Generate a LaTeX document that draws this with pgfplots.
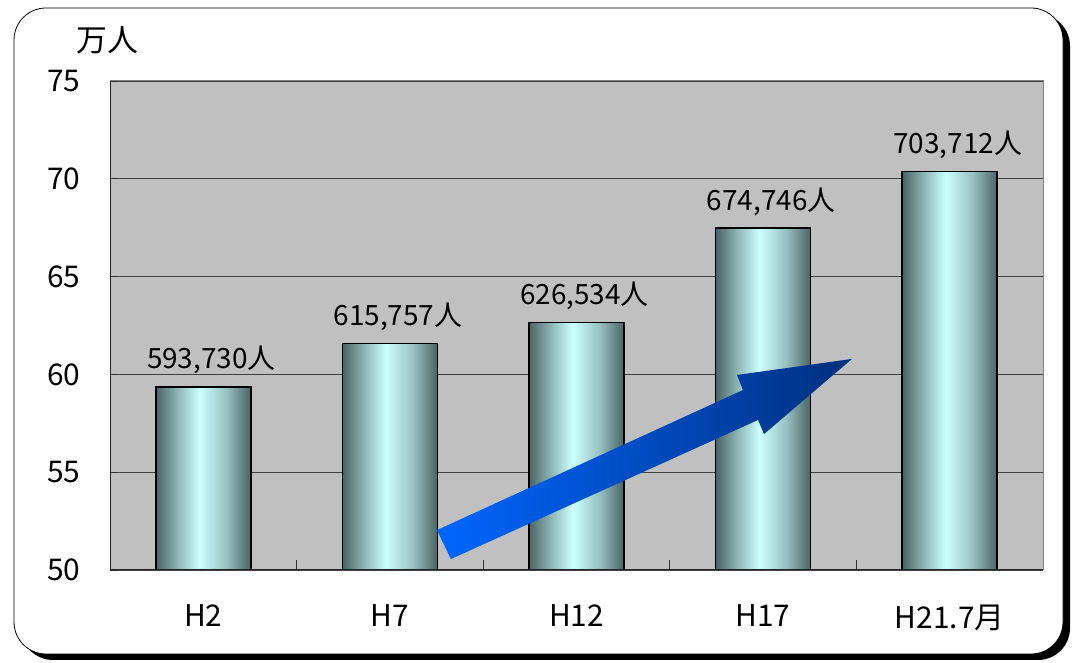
\documentclass[border=0pt]{standalone}
\usepackage{fontspec}
\setmainfont{Noto Sans CJK JP}
\usepackage{pgfplots}
\pgfplotsset{compat=1.18}

\definecolor{plotbg}{HTML}{C0C0C0}
\definecolor{cyldark}{HTML}{4A6464}
\definecolor{cyllight}{HTML}{CCFFFF}
\definecolor{arrowA}{HTML}{0066FF}
\definecolor{arrowB}{HTML}{00307F}
\pgfdeclarehorizontalshading{cyl}{100bp}{color(0bp)=(cyldark); color(25bp)=(cyldark); color(37bp)=(cyldark!45!cyllight); color(48bp)=(cyllight); color(62bp)=(cyldark!40!cyllight); color(75bp)=(cyldark); color(100bp)=(cyldark)}

\pgfplotsset{cylbar/.style={ybar, bar width=95bp, draw=black, line width=1.7bp, shade, shading=cyl,
  nodes near coords, point meta=explicit symbolic,
  every node near coord/.append style={anchor=base, yshift=18bp, xshift=8bp, font=\fontsize{28}{30}\selectfont, text=black}}}

\begin{document}
\begin{tikzpicture}[x=1bp,y=1bp]
\useasboundingbox (0,0) rectangle (1075,663);
\fill[black, rounded corners=32bp] (21,3) rectangle (1070,649);
\filldraw[fill=white, draw=black, line width=0.8bp, rounded corners=32bp] (14,9) rectangle (1063,655);
\node[font=\fontsize{31}{33}\selectfont] at (107,623) {万人};
\begin{axis}[
  at={(110bp,93bp)}, anchor=south west,
  scale only axis, width=933bp, height=489bp,
  xmin=-0.5, xmax=4.5, ymin=50, ymax=75,
  ytick={50,55,...,75},
  xtick={0,...,4}, xticklabels={H2,H7,H12,H17,H21.7月},
  minor xtick={-0.5,0.5,...,4.5},
  xtick pos=bottom, ytick pos=left,
  tick align=inside,
  major tick length=8bp, minor tick length=10bp,
  major x tick style={draw=none},
  tick style={black!80, line width=0.8bp},
  ymajorgrids, grid style={black!75, line width=0.8bp},
  axis background/.style={fill=plotbg},
  axis line style={draw=black!50, line width=1bp},
  tick label style={font=\fontsize{30}{32}\selectfont},
  /pgf/number format/assume math mode=true,
  yticklabel style={xshift=-26bp},
  xticklabel style={yshift=-31bp},
]
\addplot[cylbar] coordinates {(0,59.373) [593,730人]};
\addplot[cylbar] coordinates {(1,61.5757) [615,757人]};
\addplot[cylbar] coordinates {(2,62.6534) [626,534人]};
\addplot[cylbar] coordinates {(3,67.4746) [674,746人]};
\addplot[cylbar] coordinates {(4,70.3712) [703,712人]};
\shade[left color=arrowA, right color=arrowB]
 (axis cs:1.252,52.04) -- (axis cs:2.892,59.20) -- (axis cs:2.860,59.97) -- (axis cs:3.476,60.79) -- (axis cs:3.005,56.95) -- (axis cs:2.973,57.67) -- (axis cs:1.327,50.56) -- cycle;
\draw[black!85, line width=1.2bp] (rel axis cs:0,1) -- (rel axis cs:0,0) -- (rel axis cs:1,0);
\end{axis}
\end{tikzpicture}
\end{document}
